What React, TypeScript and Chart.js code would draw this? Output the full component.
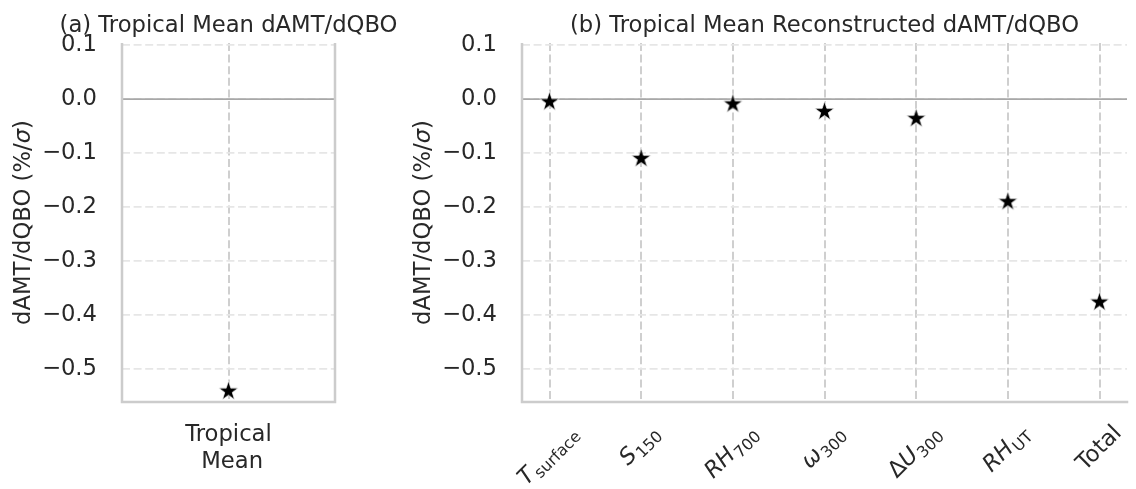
import React, { useEffect, useRef } from 'react';
import { Chart, registerables } from 'chart.js';

Chart.register(...registerables);

// ---------------- data ----------------
const Y_TICKS = [0.1, 0.0, -0.1, -0.2, -0.3, -0.4, -0.5];
const Y_TICK_LABELS = ['0.1', '0.0', '\u22120.1', '\u22120.2', '\u22120.3', '\u22120.4', '\u22120.5'];
const Y_MIN = -0.561;
const Y_MAX = 0.104;

const LEFT_CATEGORIES = ['Tropical\n Mean'];
const LEFT_VALUES = [-0.541];

const RIGHT_CATEGORIES = ['T_surface', 'S_150', 'RH_700', 'ω_300', 'ΔU_300', 'RH_UT', 'Total'];
const RIGHT_VALUES = [-0.005, -0.110, -0.009, -0.023, -0.036, -0.190, -0.376];

const LEFT_TITLE = '(a) Tropical Mean dAMT/dQBO';
const RIGHT_TITLE = '(b) Tropical Mean Reconstructed dAMT/dQBO';
const Y_LABEL_PARTS = ['dAMT/dQBO (%/', 'σ', ')'];

// ---------------- styles ----------------
const FAMILY = '"DejaVu Sans", "Noto Sans", sans-serif';
const TEXT = '#282828';
const FS = 22.7;
const SPINE = '#cccccc';

function makeStar(R: number) {
  const size = Math.ceil(2 * R + 4);
  const c = document.createElement('canvas');
  c.width = size;
  c.height = size;
  const ctx = c.getContext('2d')!;
  const cx = size / 2;
  const cy = size / 2;
  const r = R * 0.381966;
  ctx.beginPath();
  for (let i = 0; i < 10; i++) {
    const a = -Math.PI / 2 + (i * Math.PI) / 5;
    const rad = i % 2 === 0 ? R : r;
    const px = cx + rad * Math.cos(a);
    const py = cy + rad * Math.sin(a);
    if (i === 0) ctx.moveTo(px, py);
    else ctx.lineTo(px, py);
  }
  ctx.closePath();
  ctx.fillStyle = '#000';
  ctx.fill();
  ctx.strokeStyle = '#ffffff';
  ctx.lineWidth = 0.7;
  ctx.stroke();
  return c;
}

function drawYLabel(ctx: CanvasRenderingContext2D, x: number, yc: number) {
  ctx.save();
  ctx.translate(x, yc);
  ctx.rotate(-Math.PI / 2);
  ctx.fillStyle = TEXT;
  ctx.textBaseline = 'alphabetic';
  ctx.textAlign = 'left';
  const fonts = Y_LABEL_PARTS.map((p) => (p === 'σ' ? `italic ${FS}px ${FAMILY}` : `${FS}px ${FAMILY}`));
  const widths = Y_LABEL_PARTS.map((p, i) => {
    ctx.font = fonts[i];
    return ctx.measureText(p).width;
  });
  const total = widths.reduce((a, b) => a + b, 0);
  let cx = -total / 2;
  Y_LABEL_PARTS.forEach((p, i) => {
    ctx.font = fonts[i];
    ctx.fillText(p, cx, 0);
    cx += widths[i];
  });
  ctx.restore();
}

function drawMathLabel(ctx: CanvasRenderingContext2D, label: string, cx: number, top: number) {
  const [main, sub] = label.split('_');
  const plain = !sub;
  const segs: { t: string; font: string; dy: number }[] = [];
  if (plain) {
    segs.push({ t: main, font: `${FS}px ${FAMILY}`, dy: 0 });
  } else {
    for (const ch of Array.from(main)) {
      const italic = ch !== 'Δ';
      segs.push({ t: ch, font: `${italic ? 'italic ' : ''}${FS}px ${FAMILY}`, dy: 0 });
    }
  }
  const SUB_SHIFT = 4.8;
  if (sub) segs.push({ t: sub, font: `${FS * 0.7}px ${FAMILY}`, dy: SUB_SHIFT });
  const widths = segs.map((s) => {
    ctx.font = s.font;
    return ctx.measureText(s.t).width;
  });
  const w = widths.reduce((a, b) => a + b, 0) + (sub ? 1 : 0);
  const asc = 17;
  const desc = sub ? SUB_SHIFT + 3.6 : 5;
  const h = asc + desc;
  const half = (w + h) / (2 * Math.SQRT2);
  ctx.save();
  ctx.translate(cx, top + half);
  ctx.rotate(-Math.PI / 4);
  ctx.fillStyle = TEXT;
  ctx.textAlign = 'left';
  ctx.textBaseline = 'alphabetic';
  let x = -w / 2;
  const yb = -h / 2 + asc;
  segs.forEach((s, i) => {
    ctx.font = s.font;
    if (i === segs.length - 1 && sub) x += 1;
    ctx.fillText(s.t, x, yb + s.dy);
    x += widths[i];
  });
  ctx.restore();
}

function makeDecor(kind: 'left' | 'right') {
  return {
    id: 'decor_' + kind,
    beforeDatasetsDraw(chart: any) {
      const { ctx, chartArea } = chart;
      const { left, right, top, bottom } = chartArea;
      const y0 = chart.scales.y.getPixelForValue(0);
      ctx.save();
      ctx.strokeStyle = '#a8a8a8';
      ctx.lineWidth = 1.8;
      ctx.beginPath();
      ctx.moveTo(left, y0);
      ctx.lineTo(right, y0);
      ctx.stroke();
      ctx.strokeStyle = SPINE;
      ctx.lineWidth = 2.5;
      ctx.lineCap = 'butt';
      ctx.beginPath();
      ctx.moveTo(left, top);
      ctx.lineTo(left, bottom + 1.25);
      ctx.moveTo(left - 1.25, bottom);
      ctx.lineTo(right + 1.25, bottom);
      if (kind === 'left') {
        ctx.moveTo(right, top);
        ctx.lineTo(right, bottom + 1.25);
      }
      ctx.stroke();
      ctx.restore();
    },
    afterDraw(chart: any) {
      const { ctx, chartArea } = chart;
      const { left, right, top, bottom } = chartArea;
      ctx.save();
      ctx.fillStyle = TEXT;
      ctx.font = `${FS}px ${FAMILY}`;
      ctx.textAlign = 'center';
      ctx.textBaseline = 'alphabetic';
      ctx.fillText(kind === 'left' ? LEFT_TITLE : RIGHT_TITLE, (left + right) / 2, 32);
      ctx.restore();
      drawYLabel(ctx, 30, (top + bottom) / 2);
      if (kind === 'right') {
        const xs = chart.scales.x;
        RIGHT_CATEGORIES.forEach((lab, i) => {
          drawMathLabel(ctx, lab, xs.getPixelForValue(i), bottom + 20);
        });
      }
    },
  };
}

function makeConfig(kind: 'left' | 'right', star: HTMLCanvasElement): any {
  const values = kind === 'left' ? LEFT_VALUES : RIGHT_VALUES;
  const cats = kind === 'left' ? LEFT_CATEGORIES : RIGHT_CATEGORIES;
  return {
    type: 'scatter',
    data: {
      datasets: [
        {
          data: values.map((v, i) => ({ x: i, y: v })),
          pointStyle: star,
          pointRadius: 10,
          backgroundColor: '#000',
          borderColor: '#000',
          showLine: false,
        },
      ],
    },
    options: {
      responsive: false,
      animation: false,
      devicePixelRatio: 1,
      layout: { padding: { top: 43, left: 0, right: kind === 'left' ? 65 : 0, bottom: 0 } },
      plugins: { legend: { display: false }, tooltip: { enabled: false }, title: { display: false } },
      events: [],
      scales: {
        x: {
          type: 'linear',
          min: kind === 'left' ? -1 : -0.3,
          max: kind === 'left' ? 1 : cats.length - 1 + 0.3,
          afterBuildTicks: (scale: any) => {
            scale.ticks = cats.map((_, i) => ({ value: i }));
          },
          afterFit: (scale: any) => {
            scale.height = 87;
          },
          grid: { color: '#cfcfcf', lineWidth: 2, drawTicks: false },
          border: { display: false, dash: [8, 3.6] },
          ticks: {
            display: kind === 'left',
            autoSkip: false,
            maxRotation: 0,
            minRotation: 0,
            padding: 20,
            color: TEXT,
            font: { family: FAMILY, size: FS, lineHeight: 1.17 },
            callback: (_v: any, i: number) => cats[i].split('\n'),
          },
        },
        y: {
          type: 'linear',
          min: Y_MIN,
          max: Y_MAX,
          afterBuildTicks: (scale: any) => {
            scale.ticks = Y_TICKS.map((v) => ({ value: v }));
          },
          afterFit: (scale: any) => {
            scale.width = 122;
          },
          grid: { color: '#e6e6e6', lineWidth: 1.8, drawTicks: false },
          border: { display: false, dash: [8, 3.6] },
          ticks: {
            autoSkip: false,
            padding: 25,
            color: TEXT,
            font: { family: FAMILY, size: FS },
            callback: (_v: any, i: number) => Y_TICK_LABELS[i],
          },
        },
      },
    },
    plugins: [makeDecor(kind)],
  };
}

export default function App() {
  const leftRef = useRef<HTMLCanvasElement>(null);
  const rightRef = useRef<HTMLCanvasElement>(null);

  useEffect(() => {
    const star = makeStar(10.3);
    const c1 = new Chart(leftRef.current!, makeConfig('left', star));
    const c2 = new Chart(rightRef.current!, makeConfig('right', star));
    return () => {
      c1.destroy();
      c2.destroy();
    };
  }, []);

  return (
    <div
      style={{
        position: 'fixed',
        left: 0,
        top: 0,
        width: 1136,
        height: 489,
        overflow: 'hidden',
        background: '#ffffff',
      }}
    >
      <canvas ref={leftRef} width={400} height={489} style={{ position: 'absolute', left: 0, top: 0 }} />
      <canvas ref={rightRef} width={738} height={489} style={{ position: 'absolute', left: 400, top: 0 }} />
    </div>
  );
}
